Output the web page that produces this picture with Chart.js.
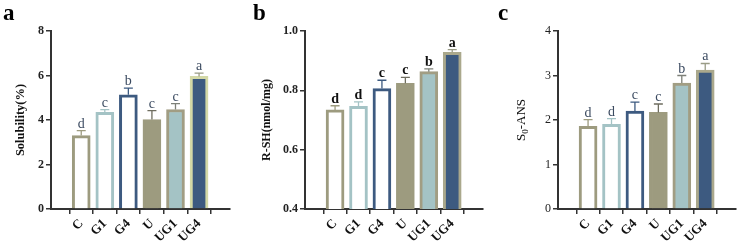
<!DOCTYPE html>
<html>
<head>
<meta charset="utf-8">
<script src="https://cdn.jsdelivr.net/npm/chart.js@4"></script>
<style>
  html, body { margin: 0; padding: 0; background: #fff; }
  body { width: 741px; height: 249px; position: relative; overflow: hidden; }
  .panel { position: absolute; top: 0; height: 249px; }
  .panel canvas { display: block; }
</style>
</head>
<body>
<div class="panel" style="left:0;width:245px"><canvas id="chartA"></canvas></div>
<div class="panel" style="left:250px;width:245px"><canvas id="chartB"></canvas></div>
<div class="panel" style="left:495px;width:246px"><canvas id="chartC"></canvas></div>
<script>
const groups = ['C', 'G1', 'G4', 'U', 'UG1', 'UG4'];

const solubility = [3.30, 4.35, 5.13, 4.02, 4.47, 5.96];
const solubilityErr = [0.22, 0.12, 0.30, 0.40, 0.27, 0.15];
const solubilityLetters = ['d', 'c', 'b', 'c', 'c', 'a'];

const rsh = [0.734, 0.746, 0.806, 0.824, 0.863, 0.928];
const rshErr = [0.014, 0.015, 0.028, 0.020, 0.009, 0.009];
const rshLetters = ['d', 'd', 'c', 'c', 'b', 'a'];

const s0ans = [1.86, 1.90, 2.20, 2.17, 2.83, 3.12];
const s0ansErr = [0.15, 0.13, 0.20, 0.19, 0.17, 0.15];
const s0ansLetters = ['d', 'd', 'c', 'c', 'b', 'a'];

const olive = '#9d9b7f';
const teal = '#a4c3c5';
const navy = '#3d5a80';
const white = '#ffffff';
const axisColor = '#333333';
const serif = "'Liberation Serif', 'Times New Roman', serif";

const fills = [white, white, white, olive, teal, navy];
const bordersA = [olive, teal, navy, olive, '#a19d83', '#d3d8a6'];
const bordersBC = [olive, teal, navy, olive, '#a19d83', '#aaa88c'];
const errColors = [olive, teal, navy, '#6f6e60', '#7d8078', '#9a9c86'];

// error bars, significance letters, panel letter and y title
const annotate = {
  id: 'annotate',
  afterDatasetsDraw(chart, args, opts) {
    const ctx = chart.ctx;
    const y = chart.scales.y;
    const meta = chart.getDatasetMeta(0);
    ctx.save();
    meta.data.forEach((bar, i) => {
      const top = y.getPixelForValue(opts.values[i] + opts.errs[i]);
      ctx.strokeStyle = errColors[i];
      ctx.lineWidth = 1.3;
      ctx.beginPath();
      ctx.moveTo(bar.x, bar.y);
      ctx.lineTo(bar.x, top);
      ctx.moveTo(bar.x - 4.5, top);
      ctx.lineTo(bar.x + 4.5, top);
      ctx.stroke();
      ctx.fillStyle = opts.letterColor;
      ctx.font = opts.letterFont;
      ctx.textAlign = 'center';
      ctx.textBaseline = 'alphabetic';
      ctx.fillText(opts.letters[i], bar.x, top - 3);
    });
    // panel letter
    ctx.fillStyle = '#000';
    ctx.font = 'bold 23px ' + serif;
    ctx.textAlign = 'left';
    ctx.fillText(opts.panel, 3, 20);
    // y title
    const area = chart.chartArea;
    ctx.translate(opts.titleX, (area.top + area.bottom) / 2);
    ctx.rotate(-Math.PI / 2);
    ctx.fillStyle = '#111';
    ctx.textBaseline = 'middle';
    if (opts.sub) {
      ctx.font = opts.titleFont;
      const w1 = ctx.measureText(opts.title[0]).width;
      const w3 = ctx.measureText(opts.title[2]).width;
      ctx.font = opts.subFont;
      const w2 = ctx.measureText(opts.title[1]).width;
      let x = -(w1 + w2 + w3) / 2;
      ctx.font = opts.titleFont;
      ctx.fillText(opts.title[0], x, 0);
      x += w1;
      ctx.font = opts.subFont;
      ctx.fillText(opts.title[1], x, 4);
      x += w2;
      ctx.font = opts.titleFont;
      ctx.fillText(opts.title[2], x, 0);
    } else {
      ctx.font = opts.titleFont;
      ctx.textAlign = 'center';
      ctx.fillText(opts.title, 0, 0);
    }
    ctx.restore();
  }
};

function makePanel(id, p) {
  return new Chart(document.getElementById(id), {
    type: 'bar',
    data: {
      datasets: [{
        data: p.values.map((v, i) => ({ x: i, y: v })),
        backgroundColor: fills,
        borderColor: p.borders,
        borderWidth: 3,
        borderSkipped: 'start',
        barThickness: 18
      }]
    },
    plugins: [annotate],
    options: {
      responsive: true,
      maintainAspectRatio: false,
      animation: false,
      layout: { padding: { top: 31, right: p.rightPad, left: 0, bottom: 0 } },
      plugins: {
        legend: { display: false },
        tooltip: { enabled: false },
        annotate: {
          values: p.values, errs: p.errs, letters: p.letters,
          letterColor: p.letterColor, letterFont: p.letterFont,
          panel: p.panel, title: p.title, titleX: p.titleX, titleFont: p.titleFont,
          sub: p.sub, subFont: p.subFont
        }
      },
      scales: {
        x: {
          type: 'linear',
          min: -0.65,
          max: 5.68,
          afterBuildTicks: s => { s.ticks = groups.map((g, i) => ({ value: i })); },
          afterFit: s => { s.height = 40; },
          border: { color: axisColor, width: 2 },
          grid: { drawOnChartArea: false, drawTicks: true, tickLength: 5, color: axisColor, lineWidth: 1.5 },
          ticks: {
            autoSkip: false,
            minRotation: 45,
            maxRotation: 45,
            padding: 2,
            color: '#111',
            font: { family: serif, size: 13, weight: 'bold' },
            callback: v => groups[v]
          }
        },
        y: {
          min: p.min,
          max: p.max,
          afterFit: s => { s.width = p.axisW; },
          border: { color: axisColor, width: 2 },
          grid: { drawOnChartArea: false, drawTicks: true, tickLength: 5, color: axisColor, lineWidth: 1.5 },
          ticks: {
            stepSize: p.step,
            padding: 2,
            color: '#222',
            font: { family: serif, size: 12, weight: p.tickWeight },
            callback: v => p.fmt(v)
          }
        }
      }
    }
  });
}

makePanel('chartA', {
  values: solubility, errs: solubilityErr, letters: solubilityLetters, borders: bordersA,
  min: 0, max: 8, step: 2, fmt: v => String(v), tickWeight: 'bold',
  axisW: 51, rightPad: 15,
  letterColor: '#3b4a60', letterFont: '14px ' + serif,
  panel: 'a', title: 'Solubility(%)', titleX: 21, titleFont: 'bold 12.5px ' + serif
});

makePanel('chartB', {
  values: rsh, errs: rshErr, letters: rshLetters, borders: bordersBC,
  min: 0.4, max: 1.0, step: 0.2, fmt: v => v.toFixed(1), tickWeight: 'bold',
  axisW: 55, rightPad: 12,
  letterColor: '#111', letterFont: 'bold 14px ' + serif,
  panel: 'b', title: 'R-SH(nmol/mg)', titleX: 17, titleFont: 'bold 12px ' + serif
});

makePanel('chartC', {
  values: s0ans, errs: s0ansErr, letters: s0ansLetters, borders: bordersBC,
  min: 0, max: 4, step: 1, fmt: v => String(v), tickWeight: 'normal',
  axisW: 63, rightPad: 5,
  letterColor: '#3b4a60', letterFont: '14px ' + serif,
  panel: 'c', title: ['S', '0', '-ANS'], sub: true, titleX: 27,
  titleFont: '13px ' + serif, subFont: '9px ' + serif
});
</script>
</body>
</html>
